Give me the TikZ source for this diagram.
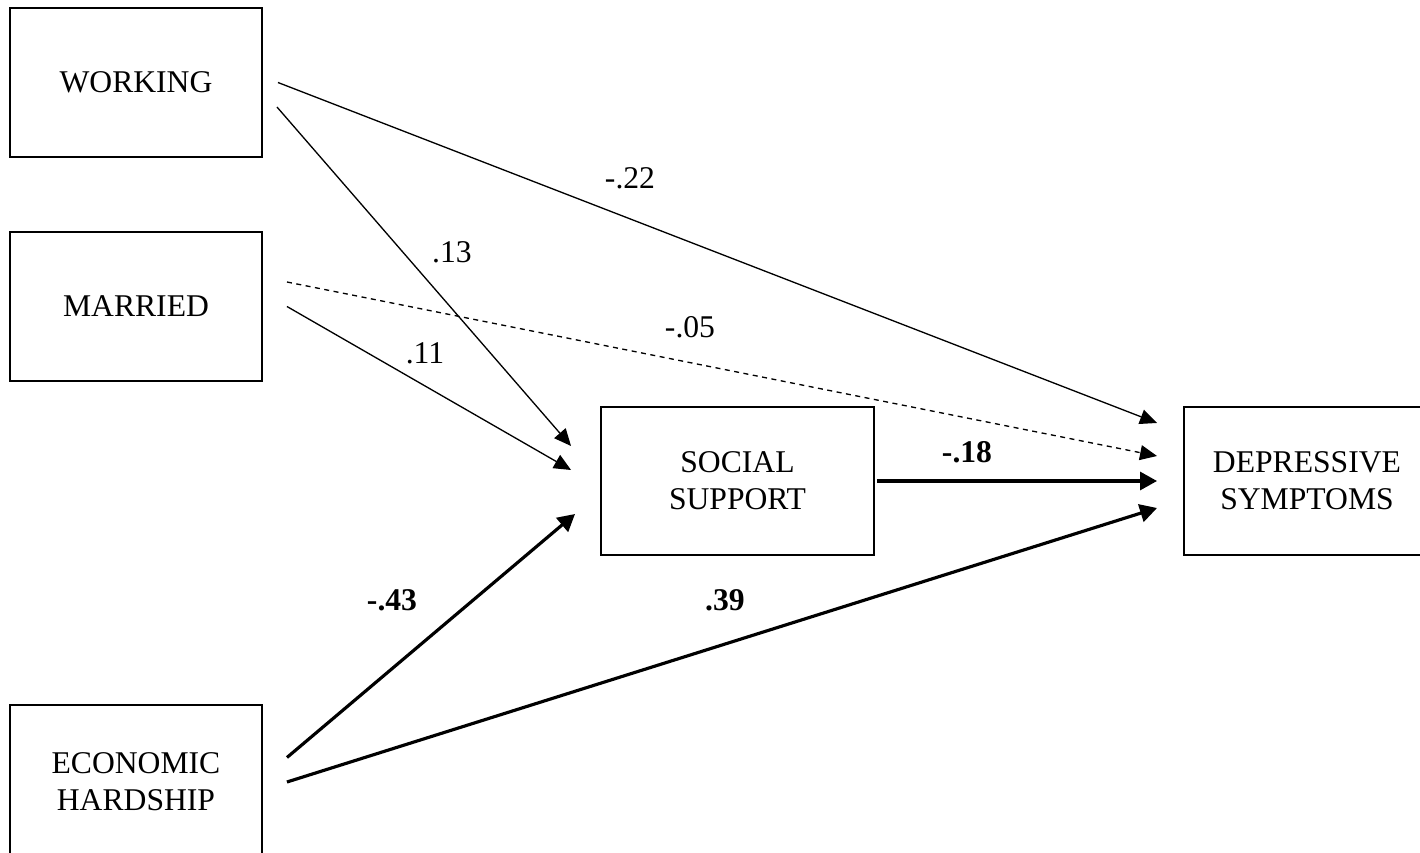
\documentclass[tikz,border=0pt]{standalone}
\usepackage{fontspec}
\setmainfont{Liberation Serif}
\usetikzlibrary{positioning, arrows.meta, calc}

\begin{document}
\begin{tikzpicture}[
    x=0.2mm, y=-0.2mm,
    font=\fontsize{18}{21}\selectfont,
    path/.style={
        -{Triangle[length=3.4mm, width=3mm]},
        line width=0.75pt
    },
    strong/.style={
        path,
        -{Triangle[length=3.4mm, width=3.6mm]},
        line width=1.8pt
    },
    weak/.style={
        path,
        dash pattern=on 1mm off 0.9mm
    },
    var/.style={
        rectangle,
        draw,
        line width=1.1pt,
        minimum width=50.4mm,
        minimum height=29.8mm,
        inner sep=0pt,
        align=center
    },
    coef/.style={
        inner sep=0pt
    }
]

    % page frame
    \useasboundingbox (0,0) rectangle (1420,853);

    % --- Exogenous variables ---
    \node[var] (working) at (136,82.5) {WORKING};
    \node[var] (married) at (136,306.5) {MARRIED};
    \node[var, minimum height=30.8mm] (hardship) at (136,782) {ECONOMIC\\HARDSHIP};

    % --- Mediator and outcome ---
    \node[var, minimum width=54.6mm, minimum height=29.6mm] (support) at (737.5,481) {SOCIAL\\SUPPORT};
    \node[var, minimum width=49.2mm, minimum height=29.6mm] (symptoms) at (1307,481) {DEPRESSIVE\\SYMPTOMS};

    % Paths to depressive symptoms
    \draw[path] ([xshift=3mm]working.east) -- ([xshift=-5.2mm, yshift=11.6mm]symptoms.west);
    \draw[weak] ([xshift=4.8mm, yshift=4.9mm]married.east) -- ([xshift=-5.2mm, yshift=5mm]symptoms.west);
    \draw[strong] ([xshift=0.4mm]support.east) -- ([xshift=-5.2mm]symptoms.west);
    \draw[strong] ([xshift=4.8mm]hardship.east) -- ([xshift=-5.2mm, yshift=-5.4mm]symptoms.west);

    % Paths to social support
    \draw[path] ([xshift=2.8mm, yshift=-4.9mm]working.east) -- ([xshift=-5.8mm, yshift=7mm]support.west);
    \draw[path] ([xshift=4.8mm]married.east) -- ([xshift=-5.8mm, yshift=2.2mm]support.west);
    \draw[strong] ([xshift=4.8mm, yshift=4.9mm]hardship.east) -- ([xshift=-5mm, yshift=-6.6mm]support.west);

    % Coefficients
    \node[coef] (c_wd) at (630,178) {-.22};
    \node[coef] (c_ws) at (452,252) {.13};
    \node[coef] (c_md) at (690,327) {-.05};
    \node[coef] (c_ms) at (425,353) {.11};
    \node[coef, font=\fontsize{18}{21}\selectfont\bfseries] (c_sd) at (967,452) {-.18};
    \node[coef, font=\fontsize{18}{21}\selectfont\bfseries] (c_hs) at (392,600) {-.43};
    \node[coef, font=\fontsize{18}{21}\selectfont\bfseries] (c_hd) at (725,600) {.39};

\end{tikzpicture}
\end{document}
